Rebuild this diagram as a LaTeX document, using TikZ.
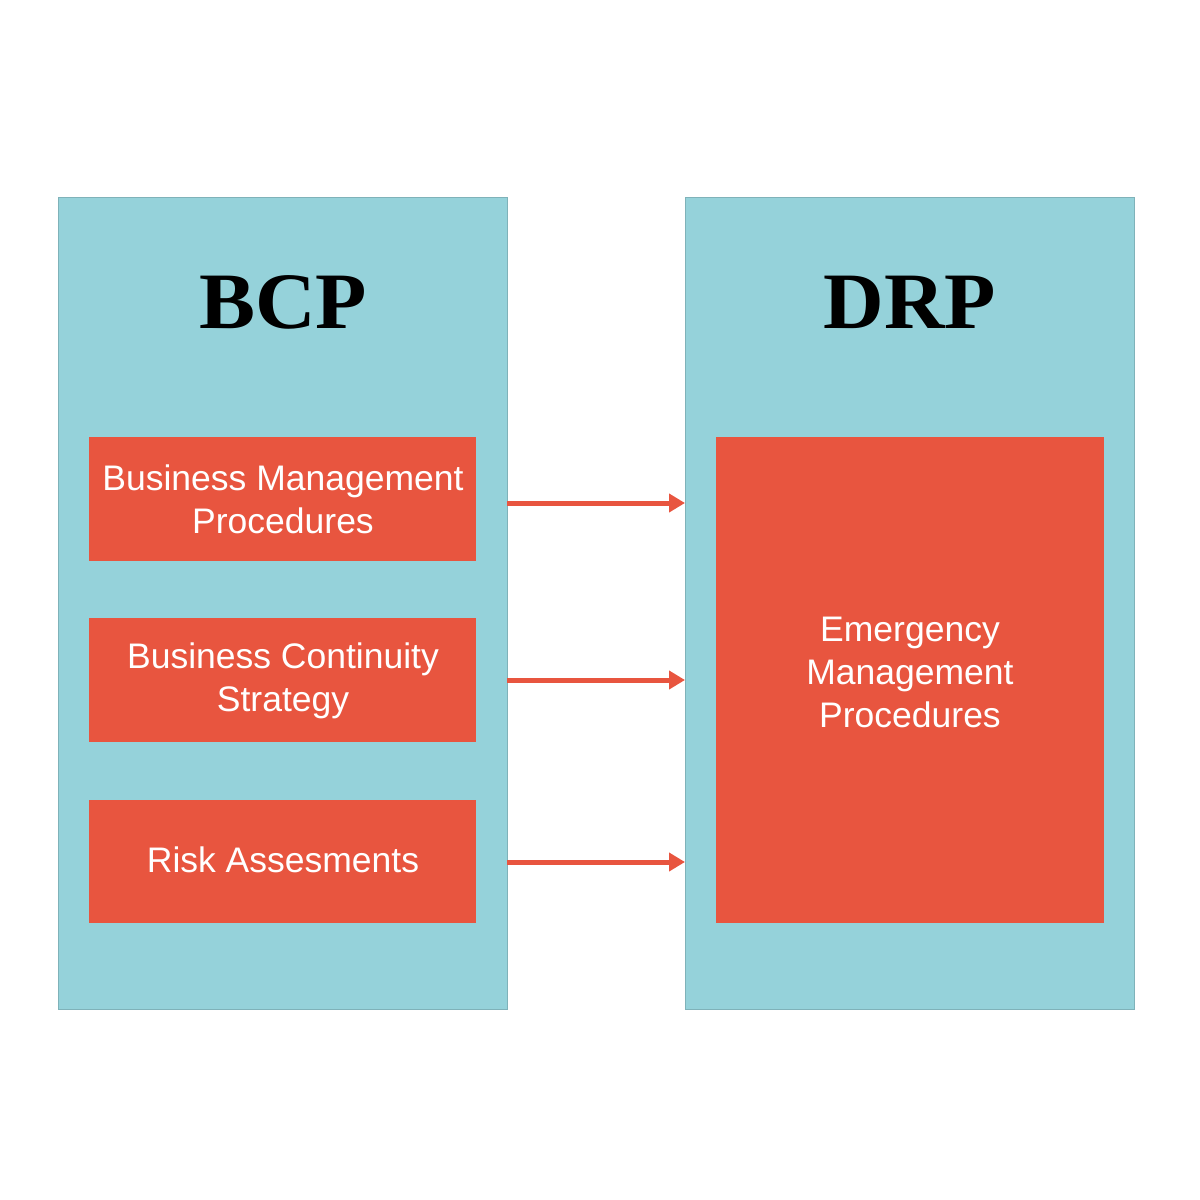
\documentclass[tikz,border=0pt]{standalone}
\usepackage{fontspec}
\setmainfont{Liberation Sans}
\newfontfamily\titlefont{Liberation Serif}
\usetikzlibrary{arrows.meta}
\definecolor{panel}{HTML}{95D2DA}
\definecolor{boxred}{HTML}{E8553F}
\begin{document}
\begin{tikzpicture}[x=1pt,y=-1pt,
  panel/.style={fill=panel,draw=panel!85!black,line width=0.5pt},
  rbox/.style={fill=boxred,draw=none,text=white,align=center,font=\fontsize{35.5}{43}\selectfont},
  ttl/.style={font=\titlefont\bfseries\fontsize{80}{80}\selectfont},
  arr/.style={draw=boxred,line width=5pt,-{Triangle[length=16pt,width=18pt]}}]
\useasboundingbox (0,0) rectangle (1200,1200);
\path[panel] (58,197) rectangle (507,1009);
\path[panel] (685,197) rectangle (1134,1009);
\node[ttl,xscale=1.05] (bcp) at (283,302) {BCP};
\node[ttl,xscale=1.05] (drp) at (910,302) {DRP};
\path[rbox] (89,437) rectangle (476,561);
\path[rbox] (89,618) rectangle (476,742);
\path[rbox] (89,800) rectangle (476,923);
\path[rbox] (716,437) rectangle (1104,923);
\node[rbox] (b1) at (283,499) {Business Management\\Procedures};
\node[rbox] (b2) at (283,681) {Business Continuity\\Strategy};
\node[rbox] (b3) at (283,860) {Risk Assesments};
\node[rbox] (em) at (910,672) {Emergency\\Management\\Procedures};
\coordinate (s1) at (507,503); \coordinate (e1) at (685,503);
\coordinate (s2) at (507,680); \coordinate (e2) at (685,680);
\coordinate (s3) at (507,862); \coordinate (e3) at (685,862);
\draw[arr] (s1) -- (e1);
\draw[arr] (s2) -- (e2);
\draw[arr] (s3) -- (e3);
\end{tikzpicture}
\end{document}
